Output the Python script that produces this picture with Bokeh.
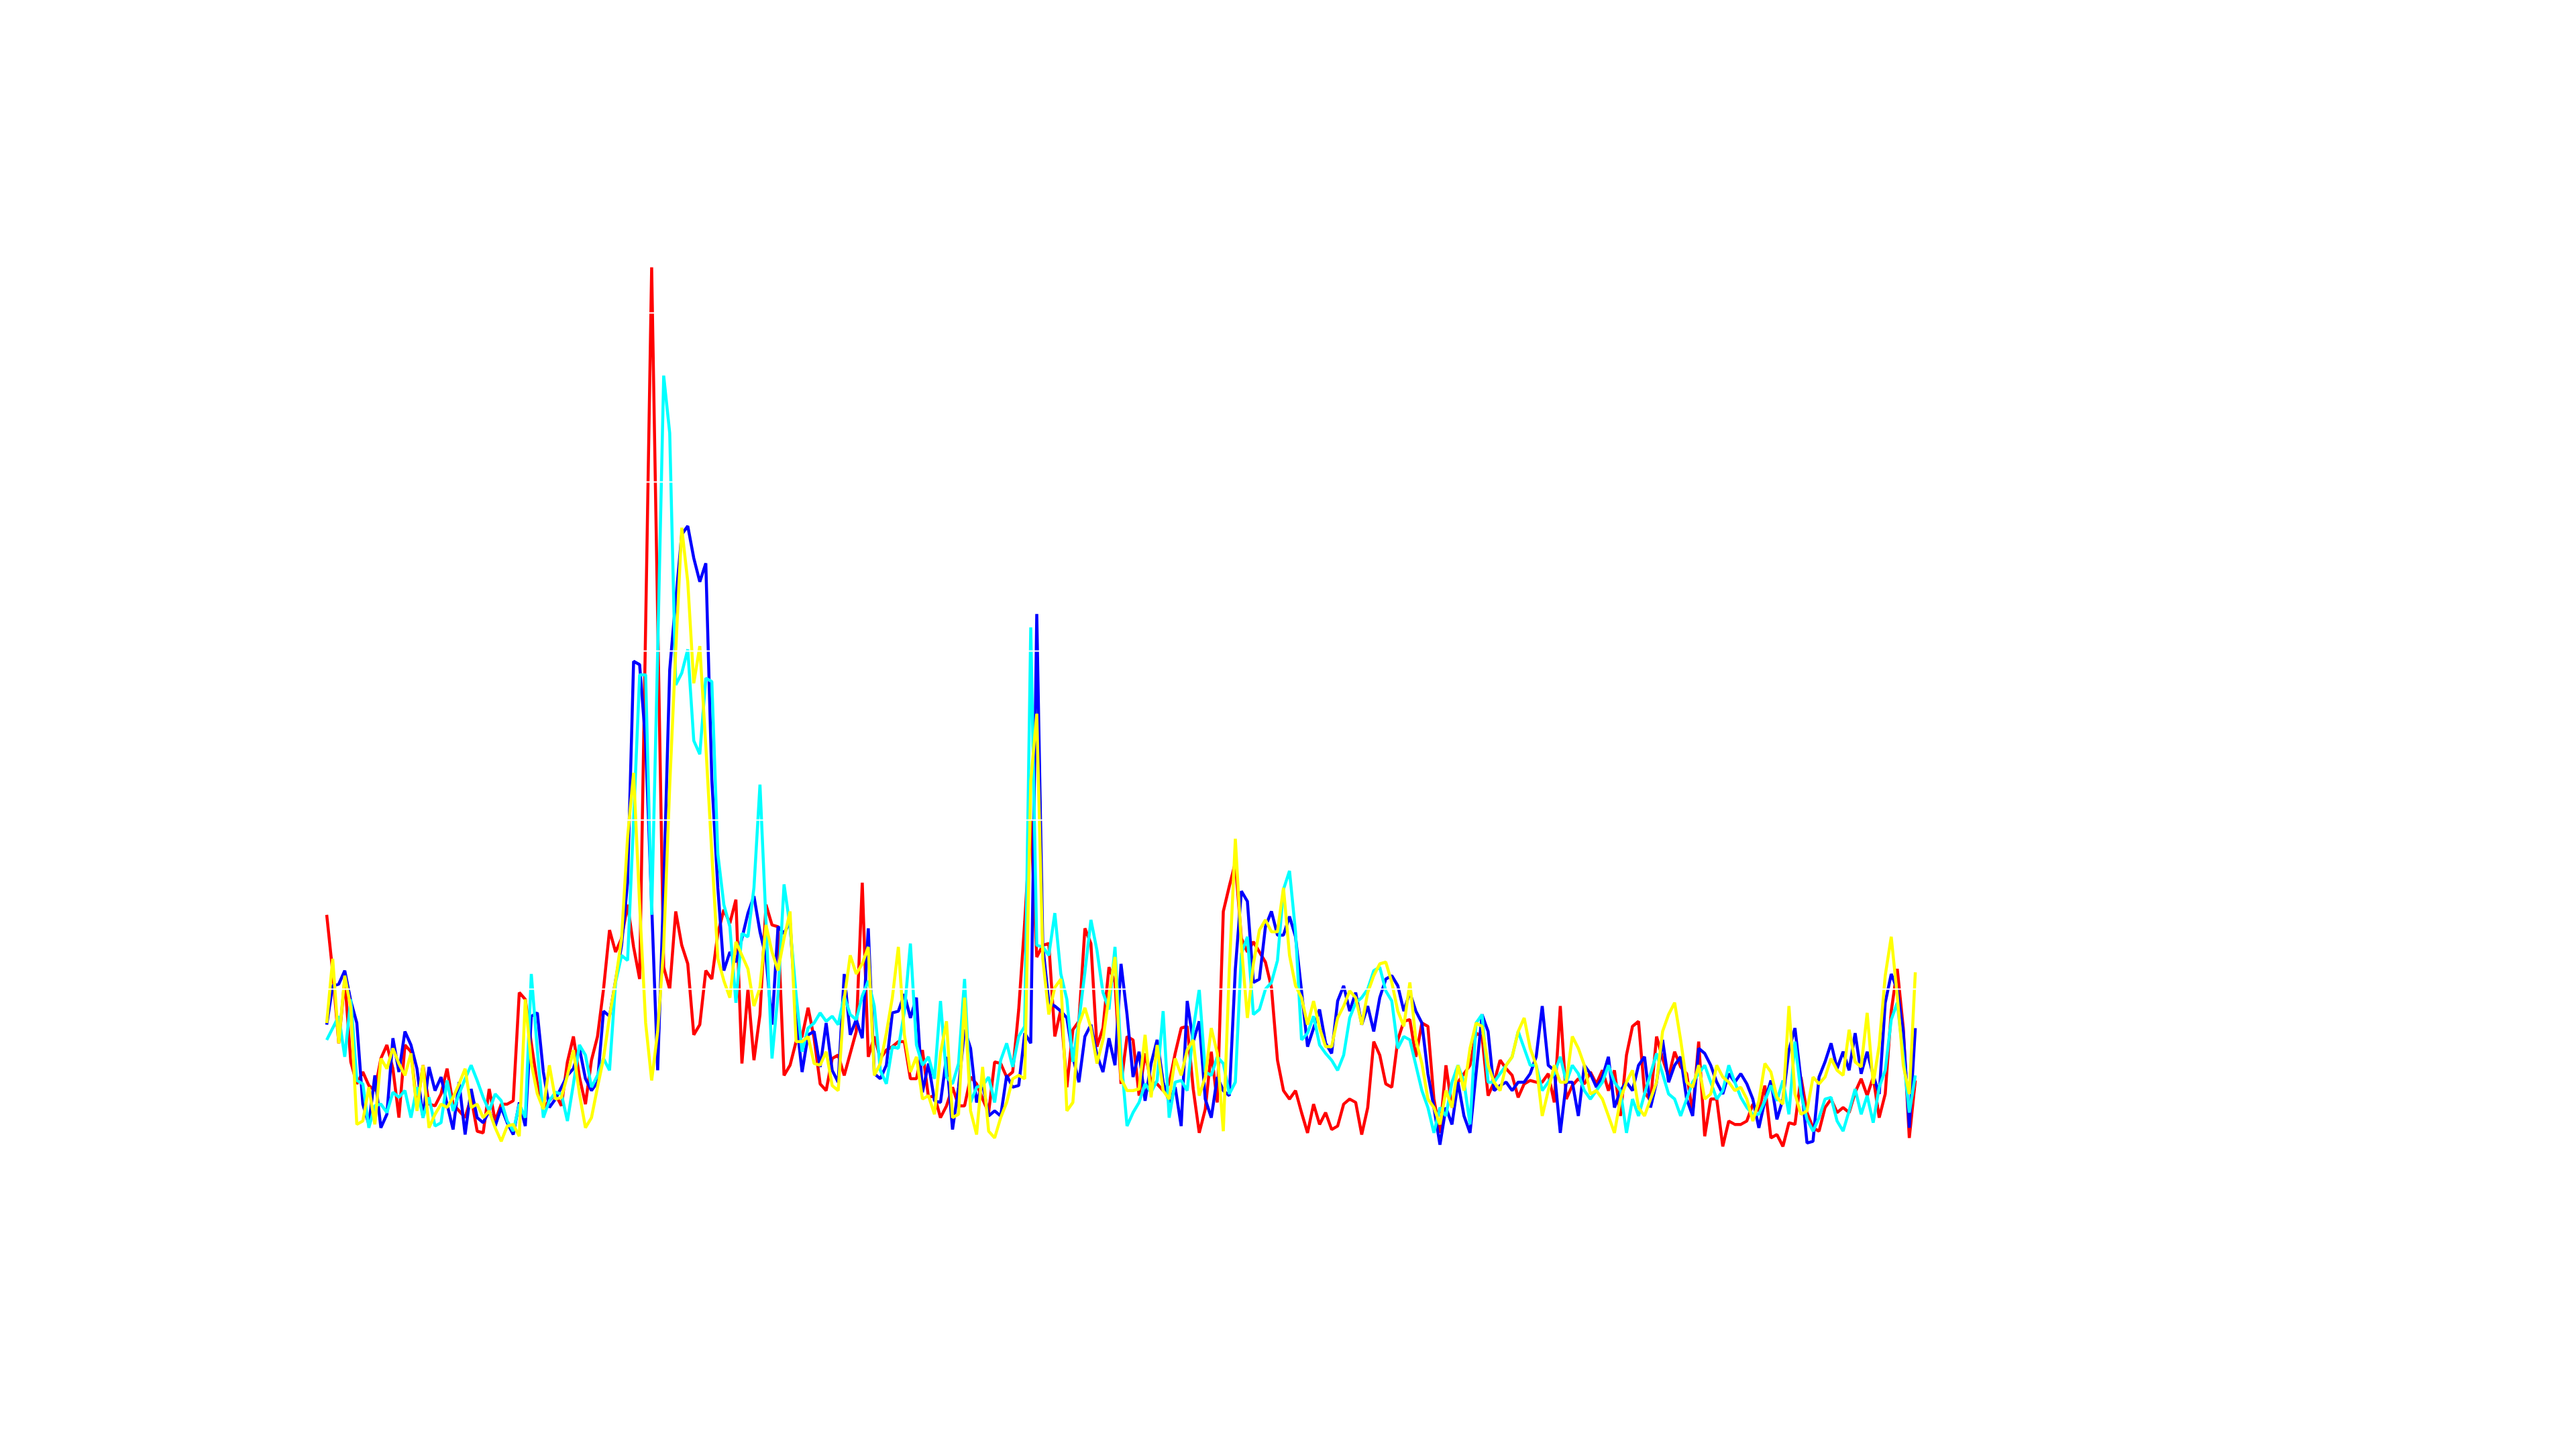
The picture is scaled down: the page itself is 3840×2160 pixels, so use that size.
from bokeh.plotting import figure
from bokeh.models import Range1d, Grid, FixedTicker, ColumnDataSource
from bokeh.embed import file_html
from bokeh.resources import INLINE

red = [1.44, 1.10, 0.68, 1.06, 0.57, 0.44, 0.51, 0.43, 0.40, 0.59,
       0.67, 0.53, 0.24, 0.67, 0.63, 0.30, 0.55, 0.32, 0.31, 0.38,
       0.53, 0.32, 0.28, 0.24, 0.36, 0.16, 0.15, 0.41, 0.22, 0.32,
       0.32, 0.34, 0.98, 0.94, 0.68, 0.44, 0.30, 0.34, 0.38, 0.31,
       0.57, 0.72, 0.48, 0.32, 0.58, 0.72, 1.00, 1.35, 1.22, 1.30,
       1.50, 1.25, 1.06, 3.15, 5.27, 3.20, 1.13, 1.00, 1.46, 1.26,
       1.15, 0.73, 0.79, 1.11, 1.06, 1.33, 1.47, 1.39, 1.53, 0.56,
       1.00, 0.58, 0.85, 1.50, 1.38, 1.37, 0.49, 0.55, 0.69, 0.72,
       0.89, 0.71, 0.44, 0.40, 0.59, 0.61, 0.49, 0.62, 0.75, 1.63,
       0.60, 0.72, 0.59, 0.64, 0.66, 0.69, 0.69, 0.47, 0.47, 0.64,
       0.36, 0.37, 0.24, 0.31, 0.42, 0.31, 0.31, 0.48, 0.44, 0.35,
       0.27, 0.57, 0.56, 0.48, 0.51, 0.88, 1.40, 2.00, 1.19, 1.26,
       1.27, 0.72, 0.88, 0.42, 0.76, 0.81, 1.36, 1.27, 0.66, 0.77,
       1.13, 1.04, 0.44, 0.72, 0.70, 0.37, 0.62, 0.45, 0.44, 0.40,
       0.44, 0.62, 0.77, 0.78, 0.41, 0.15, 0.29, 0.63, 0.33, 1.46,
       1.61, 1.75, 1.30, 1.22, 1.28, 1.22, 1.16, 1.01, 0.58, 0.40,
       0.35, 0.40, 0.27, 0.15, 0.32, 0.20, 0.27, 0.17, 0.19, 0.32,
       0.35, 0.33, 0.14, 0.30, 0.69, 0.61, 0.44, 0.42, 0.70, 0.81,
       0.82, 0.60, 0.80, 0.78, 0.35, 0.15, 0.55, 0.30, 0.45, 0.50,
       0.55, 0.74, 0.72, 0.37, 0.45, 0.58, 0.53, 0.49, 0.36, 0.44,
       0.46, 0.45, 0.45, 0.50, 0.33, 0.90, 0.35, 0.43, 0.47, 0.44,
       0.51, 0.44, 0.52, 0.40, 0.52, 0.25, 0.61, 0.78, 0.81, 0.39,
       0.34, 0.72, 0.59, 0.48, 0.63, 0.54, 0.50, 0.27, 0.69, 0.13,
       0.35, 0.35, 0.07, 0.22, 0.20, 0.20, 0.22, 0.32, 0.28, 0.43,
       0.12, 0.14, 0.07, 0.21, 0.20, 0.48, 0.27, 0.18, 0.16, 0.30,
       0.35, 0.27, 0.30, 0.27, 0.39, 0.47, 0.37, 0.48, 0.24, 0.38,
       0.87, 1.12, 0.77, 0.12, 0.46]

blue = [0.79, 1.02, 1.03, 1.11, 0.93, 0.80, 0.32, 0.20, 0.49, 0.18,
        0.26, 0.71, 0.51, 0.75, 0.67, 0.53, 0.24, 0.54, 0.40, 0.48,
        0.32, 0.17, 0.45, 0.14, 0.41, 0.24, 0.21, 0.28, 0.19, 0.30,
        0.21, 0.14, 0.33, 0.19, 0.84, 0.86, 0.51, 0.30, 0.35, 0.42,
        0.49, 0.53, 0.65, 0.47, 0.40, 0.45, 0.87, 0.84, 1.05, 1.26,
        1.63, 2.94, 2.92, 2.46, 1.50, 0.52, 1.60, 2.89, 3.30, 3.69,
        3.74, 3.55, 3.41, 3.52, 2.24, 1.60, 1.11, 1.22, 1.16, 1.30,
        1.45, 1.55, 1.34, 1.19, 0.79, 1.37, 1.33, 1.40, 0.83, 0.51,
        0.73, 0.75, 0.54, 0.80, 0.52, 0.45, 1.09, 0.73, 0.82, 0.71,
        1.36, 0.50, 0.47, 0.55, 0.86, 0.87, 0.97, 0.83, 0.95, 0.39,
        0.56, 0.34, 0.33, 0.60, 0.17, 0.42, 0.76, 0.65, 0.33, 0.44,
        0.25, 0.28, 0.25, 0.49, 0.42, 0.43, 0.74, 0.68, 3.22, 1.26,
        0.92, 0.90, 0.87, 0.83, 0.60, 0.45, 0.72, 0.79, 0.61, 0.51,
        0.71, 0.55, 1.15, 0.85, 0.48, 0.63, 0.34, 0.56, 0.70, 0.45,
        0.33, 0.42, 0.19, 0.93, 0.69, 0.81, 0.35, 0.24, 0.48, 0.40,
        0.37, 1.12, 1.58, 1.52, 1.04, 1.06, 1.37, 1.46, 1.32, 1.32,
        1.43, 1.31, 0.99, 0.66, 0.77, 0.88, 0.68, 0.62, 0.93, 1.02,
        0.87, 0.98, 0.79, 0.90, 0.75, 0.95, 1.06, 1.08, 1.02, 0.87,
        0.98, 0.87, 0.80, 0.50, 0.30, 0.08, 0.30, 0.20, 0.45, 0.25,
        0.15, 0.50, 0.85, 0.75, 0.40, 0.43, 0.45, 0.40, 0.45, 0.45,
        0.50, 0.60, 0.90, 0.55, 0.52, 0.15, 0.45, 0.45, 0.25, 0.55,
        0.50, 0.42, 0.48, 0.60, 0.30, 0.40, 0.45, 0.40, 0.55, 0.60,
        0.30, 0.45, 0.70, 0.45, 0.55, 0.60, 0.35, 0.25, 0.65, 0.62,
        0.55, 0.45, 0.38, 0.50, 0.45, 0.50, 0.44, 0.35, 0.18, 0.34,
        0.46, 0.23, 0.35, 0.64, 0.77, 0.46, 0.09, 0.10, 0.48, 0.57,
        0.68, 0.53, 0.63, 0.52, 0.74, 0.50, 0.63, 0.49, 0.38, 0.92,
        1.09, 1.00, 0.75, 0.18, 0.77]

cyan = [0.70, 0.77, 0.84, 0.60, 0.94, 0.46, 0.44, 0.18, 0.31, 0.32,
        0.27, 0.39, 0.36, 0.40, 0.24, 0.42, 0.24, 0.36, 0.19, 0.21,
        0.46, 0.28, 0.38, 0.47, 0.55, 0.46, 0.36, 0.28, 0.38, 0.34,
        0.22, 0.16, 0.32, 0.24, 1.09, 0.64, 0.24, 0.34, 0.39, 0.38,
        0.22, 0.44, 0.67, 0.61, 0.42, 0.49, 0.59, 0.52, 1.04, 1.20,
        1.17, 2.00, 2.86, 2.86, 1.44, 3.00, 4.63, 4.29, 2.80, 2.87,
        3.01, 2.47, 2.39, 2.84, 2.82, 1.80, 1.50, 1.37, 0.92, 1.33,
        1.31, 1.60, 2.21, 1.40, 0.59, 0.97, 1.62, 1.37, 0.97, 0.63,
        0.77, 0.80, 0.86, 0.81, 0.84, 0.79, 0.96, 0.85, 0.82, 0.96,
        1.05, 0.90, 0.52, 0.44, 0.66, 0.65, 0.87, 1.27, 0.67, 0.55,
        0.60, 0.47, 0.93, 0.48, 0.44, 0.56, 1.06, 0.33, 0.42, 0.43,
        0.48, 0.33, 0.58, 0.68, 0.54, 0.72, 0.78, 3.14, 1.26, 1.25,
        1.20, 1.45, 1.09, 0.94, 0.57, 0.81, 1.10, 1.41, 1.23, 0.98,
        0.88, 1.25, 0.60, 0.19, 0.27, 0.33, 0.44, 0.39, 0.46, 0.87,
        0.24, 0.45, 0.46, 0.40, 0.76, 1.00, 0.51, 0.49, 0.60, 0.56,
        0.38, 0.45, 1.21, 1.31, 0.85, 0.88, 1.00, 1.04, 1.17, 1.59,
        1.70, 1.34, 0.70, 0.74, 0.84, 0.67, 0.62, 0.58, 0.52, 0.61,
        0.83, 0.92, 0.95, 1.00, 1.11, 1.13, 0.99, 0.93, 0.65, 0.72,
        0.70, 0.55, 0.40, 0.30, 0.15, 0.30, 0.25, 0.45, 0.55, 0.45,
        0.20, 0.80, 0.85, 0.45, 0.45, 0.50, 0.55, 0.60, 0.75, 0.65,
        0.55, 0.55, 0.40, 0.45, 0.50, 0.60, 0.45, 0.55, 0.50, 0.40,
        0.35, 0.40, 0.45, 0.55, 0.45, 0.40, 0.15, 0.35, 0.25, 0.38,
        0.50, 0.62, 0.50, 0.38, 0.35, 0.25, 0.35, 0.45, 0.50, 0.55,
        0.45, 0.35, 0.40, 0.55, 0.45, 0.36, 0.30, 0.26, 0.26, 0.34,
        0.43, 0.34, 0.46, 0.26, 0.69, 0.38, 0.23, 0.16, 0.24, 0.35,
        0.36, 0.22, 0.16, 0.28, 0.41, 0.26, 0.37, 0.21, 0.42, 0.52,
        0.82, 0.92, 0.60, 0.27, 0.49]

yellow = [0.80, 1.18, 0.68, 1.08, 0.89, 0.20, 0.22, 0.42, 0.20, 0.59,
          0.53, 0.65, 0.56, 0.49, 0.62, 0.28, 0.55, 0.18, 0.26, 0.32,
          0.30, 0.36, 0.44, 0.53, 0.30, 0.32, 0.24, 0.28, 0.18, 0.10,
          0.19, 0.20, 0.13, 0.94, 0.56, 0.38, 0.29, 0.55, 0.35, 0.36,
          0.49, 0.64, 0.38, 0.18, 0.24, 0.42, 0.59, 0.84, 1.05, 1.30,
          1.90, 2.28, 1.50, 0.80, 0.46, 0.75, 1.25, 2.20, 3.00, 3.73,
          3.41, 2.81, 3.03, 2.44, 1.80, 1.18, 1.05, 0.95, 1.28, 1.20,
          1.12, 0.90, 1.01, 1.38, 1.22, 1.11, 1.30, 1.46, 0.69, 0.69,
          0.72, 0.56, 0.55, 0.63, 0.43, 0.40, 0.94, 1.20, 1.09, 1.15,
          1.25, 0.49, 0.56, 0.74, 0.95, 1.25, 0.73, 0.51, 0.60, 0.35,
          0.37, 0.26, 0.62, 0.81, 0.24, 0.26, 0.95, 0.28, 0.14, 0.54,
          0.16, 0.12, 0.24, 0.33, 0.47, 0.49, 0.47, 2.23, 2.63, 1.18,
          0.85, 1.01, 1.06, 0.28, 0.33, 0.79, 0.89, 0.77, 0.56, 0.70,
          0.96, 1.19, 0.47, 0.40, 0.40, 0.41, 0.73, 0.36, 0.67, 0.40,
          0.35, 0.59, 0.49, 0.64, 0.70, 0.37, 0.48, 0.77, 0.62, 0.16,
          1.12, 1.89, 1.26, 0.83, 1.15, 1.35, 1.41, 1.34, 1.34, 1.60,
          1.20, 1.02, 0.95, 0.79, 0.93, 0.77, 0.66, 0.66, 0.83, 0.90,
          0.99, 0.95, 0.79, 0.98, 1.08, 1.15, 1.16, 1.04, 0.87, 0.78,
          1.04, 0.70, 0.56, 0.35, 0.30, 0.20, 0.40, 0.30, 0.55, 0.40,
          0.65, 0.80, 0.78, 0.55, 0.45, 0.40, 0.55, 0.60, 0.75, 0.83,
          0.65, 0.55, 0.25, 0.40, 0.55, 0.45, 0.45, 0.72, 0.65, 0.55,
          0.38, 0.40, 0.35, 0.25, 0.15, 0.35, 0.45, 0.52, 0.30, 0.25,
          0.35, 0.45, 0.75, 0.85, 0.92, 0.70, 0.45, 0.42, 0.55, 0.35,
          0.38, 0.55, 0.48, 0.45, 0.40, 0.42, 0.35, 0.22, 0.34, 0.56,
          0.51, 0.36, 0.32, 0.90, 0.38, 0.26, 0.28, 0.48, 0.44, 0.48,
          0.59, 0.52, 0.49, 0.76, 0.57, 0.54, 0.86, 0.44, 0.67, 1.08,
          1.31, 0.96, 0.55, 0.38, 1.10]

grid_levels = [0, 1, 2, 3, 4, 5, 6]
step = list(range(len(red)))

series = [("red", red, "#ff0000"), ("blue", blue, "#0000ff"),
          ("cyan", cyan, "#00ffff"), ("yellow", yellow, "#ffff00")]

p = figure(frame_width=2976, frame_height=1663,
           min_border_left=472, min_border_right=370,
           min_border_top=251, min_border_bottom=220,
           x_range=Range1d(-1.62, 330.15), y_range=Range1d(-0.746, 5.854),
           x_axis_location=None, y_axis_location=None,
           output_backend="svg", toolbar_location=None)
p.grid.visible = False
p.outline_line_color = None
p.background_fill_color = "white"
p.border_fill_color = "white"

for name, vals, col in series:
    src = ColumnDataSource(dict(x=step, y=vals))
    p.line("x", "y", source=src, line_color=col, line_width=4.5)

g = Grid(dimension=1, ticker=FixedTicker(ticks=grid_levels),
         grid_line_color="white", grid_line_width=2, level="overlay")
p.add_layout(g)

open("out.html", "w").write(file_html(p, INLINE))
